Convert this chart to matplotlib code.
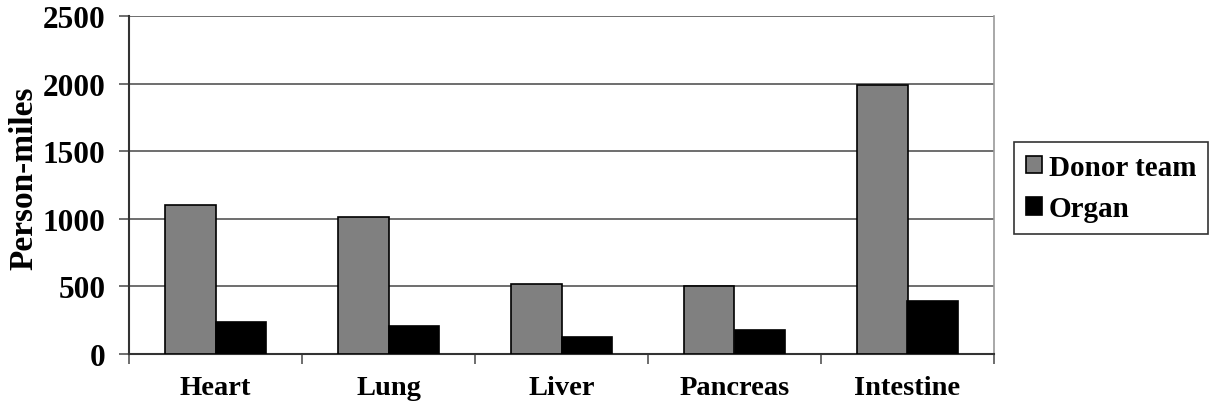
import numpy as np
import matplotlib.pyplot as plt

organs = ["Heart", "Lung", "Liver", "Pancreas", "Intestine"]
donor_team = [1100, 1010, 520, 505, 1990]
organ = [240, 210, 125, 180, 390]

plt.rcParams["font.family"] = ["Liberation Serif", "DejaVu Serif"]
plt.rcParams["font.weight"] = "bold"

fig = plt.figure(figsize=(12.12, 4.06), dpi=100)
ax = fig.add_axes([129 / 1212, 51 / 406, 865 / 1212, 338 / 406])

x = np.arange(len(organs))
w = 0.29
ax.bar(x - w / 2, donor_team, w, color="#808080", edgecolor="black", linewidth=1.2,
       label="Donor team", zorder=3)
ax.bar(x + w / 2, organ, w, color="black", edgecolor="black", linewidth=1.2,
       label="Organ", zorder=3)

ax.set_xlim(-0.5, len(organs) - 0.5)
ax.set_ylim(0, 2500)
ax.set_yticks(range(0, 2501, 500))
ax.yaxis.grid(True, color="#555555", linewidth=1.2, zorder=0)

# category separators as ticks below the axis
ax.set_xticks(np.arange(-0.5, len(organs), 1.0))
ax.set_xticklabels([])
ax.set_xticks(x, minor=True)
ax.set_xticklabels(organs, minor=True, fontsize=20.5, fontweight="bold")
ax.tick_params(axis="x", which="major", length=7, width=1.2, color="#555555", direction="out")
ax.tick_params(axis="x", which="minor", length=0, pad=15)
ax.tick_params(axis="y", length=7, width=1.2, color="#555555", labelsize=22.5, pad=10)
for lbl in ax.get_yticklabels():
    lbl.set_fontweight("bold")

for side in ["left", "bottom"]:
    ax.spines[side].set_color("#333333")
    ax.spines[side].set_linewidth(1.5)
ax.spines["right"].set_color("#999999")
ax.spines["right"].set_linewidth(1.2)
ax.spines["top"].set_visible(False)

ax.set_ylabel("Person-miles", fontsize=24, fontweight="bold")
ax.yaxis.set_label_coords(-0.104, 0.524)

leg = fig.legend(loc="upper left", bbox_to_anchor=(1014 / 1212, 1 - 143 / 406),
                 fontsize=21, frameon=True, fancybox=False, edgecolor="black",
                 handlelength=0.55, handleheight=0.55, handletextpad=0.25,
                 borderpad=0.4, labelspacing=0.5, borderaxespad=0)
leg.get_frame().set_linewidth(1.2)
for t in leg.get_texts():
    t.set_fontweight("bold")

fig.savefig("out.png", dpi=100)
